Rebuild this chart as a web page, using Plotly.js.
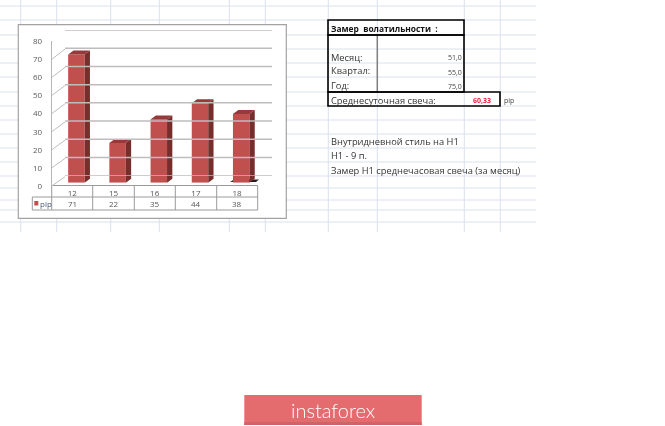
<!DOCTYPE html>
<html><head><meta charset="utf-8">
<script src="https://cdn.plot.ly/plotly-3.0.1.min.js"></script>
<style>html,body{margin:0;padding:0;background:#fff}#c{width:665px;height:426px;filter:blur(0.35px)}</style>
</head><body><div id="c"></div>
<script>
const categories=['12','15','16','17','18'];
const pipValues=[71,22,35,44,38];
const yTicks=[0,10,20,30,40,50,60,70,80];
const seriesName='pip';
const titleText='Замер  волатильности  :';
const statLabels=['Месяц:','Квартал:','Год:'];
const statValues=['51,0','55,0','75,0'];
const avgLabel='Среднесуточная свеча:';
const avgValue='60,33';
const notes=['Внутридневной стиль на H1','H1 - 9 п.','Замер H1 среднечасовая свеча (за месяц)'];
const sheetCols=[20.7,56.7,110.7,159.3,229.3,265.3,328.3,377.3,464.3,500.3];
const sheetRows=[6,20,35,49,63,77,92,106,120,134,148,162,176,188,200,210,222];

const W=665,H=426;
const px=x=>x/W, py=y=>1-y/H;
const ydom=(top,bot)=>[py(bot),py(top)];
const rect=(x0,y0,x1,y1,o)=>Object.assign({type:'rect',xref:'paper',yref:'paper',x0:px(x0),x1:px(x1),y0:py(y0),y1:py(y1),layer:'below',line:{width:0}},o);
const line=(x0,y0,x1,y1,color,width)=>({type:'line',xref:'paper',yref:'paper',x0:px(x0),x1:px(x1),y0:py(y0),y1:py(y1),layer:'below',line:{color,width}});
const box=(x0,y0,x1,y1)=>rect(x0,y0,x1,y1,{line:{color:'#000',width:1.6},fillcolor:'rgba(0,0,0,0)'});
const text=(t,x,y,o={})=>({text:t,xref:'paper',yref:'paper',x:px(x),y:py(y),showarrow:false,xanchor:o.anchor||'left',yanchor:'middle',borderpad:0,
  font:{family:o.family||'"Open Sans"',size:o.size||9.3,color:o.color||'#333',weight:o.weight||'normal'}});

const shapes=[];
const gridC='#dbe0ee';
sheetCols.forEach(x=>shapes.push(line(x,0,x,232,gridC,1)));
sheetRows.forEach(y=>shapes.push(line(0,y,536,y,gridC,1)));
shapes.push(rect(18.3,24.7,286.3,218.3,{fillcolor:'#fff',line:{color:'#a3a3a3',width:1.2}}));
// data table under the chart
const tc='#9a9a9a';
const cellX=[51.7,92.7,134.3,175.3,216.7,257.7];
cellX.forEach(x=>shapes.push(line(x,185.5,x,210,tc,1)));
shapes.push(line(51.7,185.5,257.7,185.5,tc,1));
shapes.push(line(51.7,197,257.7,197,tc,1));
shapes.push(line(32.3,197,51.7,197,tc,1));
shapes.push(line(32.3,210,257.7,210,tc,1));
shapes.push(line(32.3,197,32.3,210,tc,1));
shapes.push(rect(34.3,201,38.3,205.5,{fillcolor:'#c0504d'}));
// floor shadow near the last column
shapes.push({type:'path',xref:'paper',yref:'paper',layer:'below',fillcolor:'#222',line:{width:0},
  path:`M ${px(230)} ${py(182)} L ${px(234)} ${py(179.5)} L ${px(259)} ${py(179.5)} L ${px(256)} ${py(182)} Z`});
// right-hand block
shapes.push(line(377.3,35,377.3,91,'#7f7f7f',1.5));
shapes.push(box(328,20,464,35));
shapes.push(box(328,35,464,92));
shapes.push(box(328,92,500,106));
// banner
shapes.push(rect(244.3,395,421.7,425,{fillcolor:'#e56c6e'}));
shapes.push(rect(244.3,422,421.7,425,{fillcolor:'#d06366'}));

const ann=[];
categories.forEach((c,i)=>{
  ann.push(text(String(pipValues[i]),(cellX[i]+cellX[i+1])/2,203.3,{anchor:'center',size:8,color:'#555'}));
});
ann.push(text(seriesName,39,203.5,{size:8,color:'#4a5a78'}));
ann.push(text('<b>'+titleText.replace(/ /g,'\u00a0')+'</b>',329.5,29,{size:8.4,color:'#111'}));
statLabels.forEach((s,i)=>{
  ann.push(text(s,329.5,57+14*i));
  ann.push(text(statValues[i],462.5,58+14*i,{size:7,anchor:'right',color:'#444'}));
});
ann.push(text(avgLabel,329.5,100));
ann.push(text('<b>'+avgValue+'</b>',491.5,100.5,{size:7,anchor:'right',color:'#f0203a'}));
ann.push(text(seriesName,503,101,{size:7,color:'#444'}));
notes.forEach((s,i)=>ann.push(text(s,329.5,142+14*i)));
ann.push(text('instaforex',332.5,409.5,{anchor:'center',size:20,color:'#fff',family:'Lato',weight:300}));

// side wall and floor diagonals, in units of the front axes
const xD=13.3/41.2;
const wallX=[],wallY=[];
const frontPx=1.806, backPx=1.82, rise=9.3;
yTicks.forEach(v=>{
  wallX.push(-0.5,-0.5+xD,null);
  wallY.push(v,v+(rise+(backPx-frontPx)*v)/frontPx,null);
});
wallX.push(4.5,4.5+14/41.2,null);
wallY.push(0,rise/frontPx,null);

// back-wall gridlines
const gridX=[],gridY=[];
yTicks.forEach(v=>{gridX.push(0,1,null);gridY.push(v,v,null);});

// 3-D faces of the columns
const bw=0.4,dx=5.3/41.2,dy=4/1.806;
const sideX=[],sideY=[],topX=[],topY=[];
pipValues.forEach((v,i)=>{
  const r=i+bw/2,l=i-bw/2;
  sideX.push(r,r+dx,r+dx,r,r,null);
  sideY.push(0,dy,v+dy,v,0,null);
  topX.push(l,r,r+dx,l+dx,l,null);
  topY.push(v,v,v+dy,v+dy,v,null);
});
const idx=categories.map((_,i)=>i);

const data=[
 {type:'scatter',mode:'lines',x:gridX,y:gridY,xaxis:'x3',yaxis:'y3',line:{color:'#bdbdbd',width:1.5},hoverinfo:'skip',showlegend:false,cliponaxis:false},
 {type:'scatter',mode:'lines',x:wallX,y:wallY,xaxis:'x',yaxis:'y',line:{color:'#bdbdbd',width:1},hoverinfo:'skip',showlegend:false,cliponaxis:false},
 {type:'scatter',mode:'lines',x:sideX,y:sideY,xaxis:'x2',yaxis:'y2',fill:'toself',fillcolor:'#772d2b',line:{width:0,color:'#772d2b'},hoverinfo:'skip',showlegend:false},
 {type:'scatter',mode:'lines',x:topX,y:topY,xaxis:'x2',yaxis:'y2',fill:'toself',fillcolor:'#95393a',line:{width:0,color:'#95393a'},hoverinfo:'skip',showlegend:false},
 {type:'bar',name:seriesName,x:idx,y:pipValues,width:bw,xaxis:'x2',yaxis:'y2',marker:{color:'#c0504d',line:{width:0}},showlegend:false}
];

const layout={
 width:W,height:H,margin:{l:0,r:0,t:0,b:0},paper_bgcolor:'#fff',plot_bgcolor:'rgba(0,0,0,0)',showlegend:false,
 shapes,annotations:ann,
 xaxis:{domain:[px(51.7),px(257.7)],range:[-0.5,4.5],tickmode:'array',tickvals:idx,ticktext:categories,ticks:'',ticklabelstandoff:1,
   tickfont:{family:'"Open Sans"',size:8,color:'#555'},showgrid:false,zeroline:false,showline:false,anchor:'y',fixedrange:true},
 yaxis:{domain:ydom(41.3,186),range:[0,80],tickmode:'array',tickvals:yTicks,ticks:'',ticklabelstandoff:7,
   tickfont:{family:'"Open Sans"',size:8,color:'#5a5a5a'},showgrid:false,zeroline:false,showline:true,linecolor:'#b5b5b5',linewidth:1,anchor:'x',fixedrange:true},
 xaxis2:{domain:[px(55.8),px(261.8)],range:[-0.5,4.5],visible:false,anchor:'y2',fixedrange:true},
 yaxis2:{domain:ydom(38.2,182.7),range:[0,80],visible:false,anchor:'x2',fixedrange:true},
 xaxis3:{domain:[px(65),px(272)],range:[0,1],visible:false,anchor:'y3',fixedrange:true},
 yaxis3:{domain:ydom(30,175.7),range:[0,80],visible:false,anchor:'x3',fixedrange:true}
};
Plotly.newPlot('c',data,layout,{displayModeBar:false,staticPlot:true});
</script></body></html>
